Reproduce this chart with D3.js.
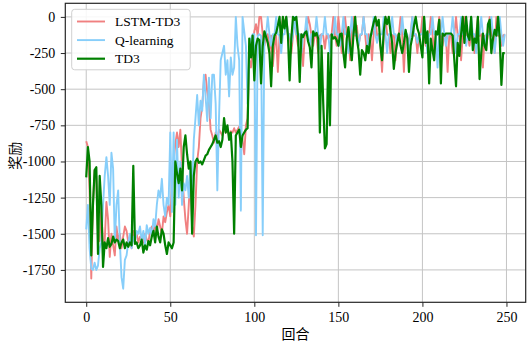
<!DOCTYPE html>
<html>
<head>
<meta charset="utf-8">
<script src="https://cdn.jsdelivr.net/npm/d3@7"></script>
<style>
  body { margin: 0; background: #fff; }
  svg text { font-family: "Liberation Serif", "DejaVu Serif", serif; }
</style>
</head>
<body>
<div id="chart"></div>
<script>
// episode rewards, one value per episode (0..249)
var lstmTd3 = [
  -860, -900, -1200, -1810, -1300, -1060, -1100, -1500, -1550, -1300,
  -1600, -1550, -1280, -1400, -1660, -1500, -1580, -1650, -1450, -1550,
  -1500, -1600, -1520, -1450, -1480, -1560, -1520, -1600, -1480, -1530,
  -1500, -1560, -1520, -1540, -1560, -1500, -1540, -1560, -1480, -1450,
  -1500, -1420, -1480, -1400, -1450, -1500, -1380, -1420, -1350, -1300,
  -1380, -1200, -1000, -880, -800, -900, -780, -1050, -1250, -1400,
  -1500, -1300, -1100, -1450, -1520, -1300, -1000, -900, -700, -620,
  -440, -400, -520, -600, -780, -820, -870, -800, -850, -780,
  -800, -820, -760, -800, -780, -820, -790, -800, -770, -800,
  -780, -760, -800, -850, -950, -750, -700, -300, -350, -200,
  -100, -50, -130, 0, 0, -120, -200, -130, -120, -250,
  -130, -340, -200, -130, -380, -130, -120, 0, -60, 0,
  -130, -120, -250, -130, 0, -120, -200, -130, -120, -340,
  -130, -120, 0, -50, -130, -200, -120, -130, -250, -130,
  -120, -130, -220, -120, -150, -130, -120, 0, -130, -200,
  0, -120, -250, -130, 0, -120, -130, -300, -120, 0,
  -130, -60, -200, -130, -120, 0, -130, -250, -120, -130,
  -300, -120, 0, -130, -120, -200, -380, -130, 0, -120,
  -130, -250, -130, -120, -300, -130, -120, 0, -130, -380,
  -120, -130, -200, -120, 0, -130, -120, -250, -130, -120,
  0, -130, -200, -120, -130, 0, -120, -250, -130, -120,
  0, -130, -200, -120, -130, -380, -120, -130, -250, -120,
  0, -130, -120, -300, -130, 0, -120, -130, -200, -120,
  -130, -250, -120, 0, -130, -120, -350, -130, -200, -120,
  0, -130, -120, -250, 0, -130, -120, -200, -130, -120
];
var qLearning = [
  -1470, -1300, -1600, -1740, -1750, -1700, -1750, -1720, -1600, -1560,
  -1300, -1100, -970, -1100, -1300, -940, -1050, -1560, -1300, -1200,
  -1560, -1800, -1880, -1680, -1650, -1560, -1500, -1600, -1520, -1560,
  -1480, -1500, -1450, -1550, -1480, -1580, -1440, -1500, -1460, -1520,
  -1400, -1450, -1300, -1200, -1250, -1120, -1300, -1380, -1250, -1300,
  -800, -1350, -800, -1300, -850, -1250, -1000, -1300, -1150, -1200,
  -1100, -1250, -1000, -1200, -850, -700, -540, -750, -580, -650,
  -400, -550, -720, -420, -700, -400, -400, -600, -1200, -700,
  -300, -250, -200, -400, -300, -550, -280, -400, -350, 0,
  -200, -300, -1340, 0, -100, -200, -600, -250, -150, -120,
  -120, -1510, -130, -120, -130, -1510, -120, -120, 0, -120,
  -200, -120, -120, 0, -120, -130, -250, -120, -120, 0,
  -120, -120, -180, -120, 0, -120, -120, -120, -250, -120,
  -120, 0, -120, -200, -120, -120, -120, 0, -120, -220,
  -120, -120, 0, -120, -120, -250, -120, -120, 0, -120,
  -120, -200, -120, 0, -120, -120, -250, -120, 0, -120,
  -120, -120, -200, -120, -120, 0, -120, -120, -250, -120,
  -120, 0, -120, -180, -120, -120, -120, 0, -120, -250,
  -120, -120, 0, -120, -120, -200, -120, -120, 0, -120,
  -120, -120, -250, -120, 0, -120, -120, -180, -120, -120,
  -120, 0, -120, -250, -120, -120, 0, -120, -120, -350,
  -120, -120, 0, -120, -200, -120, -120, -120, 0, -120,
  -250, -120, -120, 0, -120, -120, -200, -120, -120, 0,
  -120, -120, -250, -120, -120, 0, -120, -200, -120, -120,
  -120, 0, -120, -250, -120, -120, 0, -120, -200, -120
];
var td3 = [
  -1110, -900, -1000, -1650, -1300, -1060, -1040, -1640, -1100, -1300,
  -1730, -1560, -1600, -1530, -1590, -1570, -1520, -1560, -1540, -1550,
  -1600, -1560, -1540, -1600, -1560, -1590, -1560, -1580, -1030, -1570,
  -1560, -1600, -1580, -1540, -1630, -1580, -1610, -1550, -1580, -1520,
  -1480, -1560, -1450, -1520, -1560, -1470, -1500, -1580, -1640, -1560,
  -1580, -1600, -1560, -1000, -1080, -1150, -1050, -1200, -900, -820,
  -950, -1050, -1000, -1500, -1100, -1000, -980, -1010, -1000, -1020,
  -990, -960, -950, -920, -900, -880, -850, -820, -870, -860,
  -900, -850, -700, -800, -750, -850, -800, -1000, -1500, -820,
  -800, -780, -900, -820, -800, -780, -770, -150, -280, -130,
  -440, -200, -150, -160, -460, -200, -100, -140, -180, -250,
  -480, -200, -130, -110, -60, 0, -180, 0, -80, 0,
  -130, -440, -150, 0, -20, 0, -130, -450, -120, -140,
  -110, -100, -170, -210, -350, -100, -130, -110, -150, -800,
  -200, -600, -910, -880, -250, -750, -120, -150, -140, -160,
  -200, -120, -115, -250, -350, -150, -70, -200, -300, -120,
  0, -150, -230, -400, -230, -250, -300, -200, -250, -150,
  -90, -40, 0, -60, -20, -200, -300, -100, 0, -50,
  0, -100, -180, -360, -250, -180, -115, -200, -250, -180,
  -90, -150, -380, -200, -140, -60, 0, -80, -115, -200,
  -280, 0, -180, -100, -460, -150, -230, -300, -100, -120,
  -20, -460, -115, -130, -115, -115, -115, -115, -130, -300,
  -480, -180, -270, -120, 0, -180, 0, -130, -160, 0,
  -230, -150, -180, 0, -430, -250, -115, -200, -230, -50,
  -20, -250, -150, -90, -130, 0, -150, -470, -250, -250
];
var seriesNames = ["LSTM-TD3", "Q-learning", "TD3"];
var seriesColors = ["#f08080", "#87cefa", "#008000"];
var xTicks = [0, 50, 100, 150, 200, 250];
var yTicks = [0, -250, -500, -750, -1000, -1250, -1500, -1750];

(function() {
var w = 529, h = 343;
var pLeft = 65.3, pRight = 525.7, pTop = 3.3, pBottom = 302.3;

var all = [lstmTd3, qLearning, td3];
var n = td3.length;
var ymin = d3.min(all, function(s) { return d3.min(s); });
var ymax = d3.max(all, function(s) { return d3.max(s); });
var xpad = (n - 1) * 0.05, ypad = (ymax - ymin) * 0.05;

var xScale = d3.scaleLinear().domain([-xpad, n - 1 + xpad]).range([pLeft, pRight]);
var yScale = d3.scaleLinear().domain([ymin - ypad, ymax + ypad]).range([pBottom, pTop]);

var svg = d3.select("#chart").append("svg").attr("width", w).attr("height", h);

// grid
svg.append("g").selectAll("line").data(xTicks).enter().append("line")
  .attr("x1", function(d) { return xScale(d); }).attr("x2", function(d) { return xScale(d); })
  .attr("y1", pTop).attr("y2", pBottom)
  .attr("stroke", "#c4c4c4").attr("stroke-width", 1);
svg.append("g").selectAll("line").data(yTicks).enter().append("line")
  .attr("y1", function(d) { return yScale(d); }).attr("y2", function(d) { return yScale(d); })
  .attr("x1", pLeft).attr("x2", pRight)
  .attr("stroke", "#c4c4c4").attr("stroke-width", 1);

// lines
var line = d3.line().x(function(d, i) { return xScale(i); }).y(function(d) { return yScale(d); });
all.forEach(function(s, k) {
  svg.append("path").datum(s)
    .attr("d", line)
    .attr("fill", "none")
    .attr("stroke", seriesColors[k])
    .attr("stroke-width", k == 2 ? 2.2 : 1.9)
    .attr("stroke-linejoin", "round");
});

// frame
svg.append("rect").attr("x", pLeft).attr("y", pTop)
  .attr("width", pRight - pLeft).attr("height", pBottom - pTop)
  .attr("fill", "none").attr("stroke", "#262626").attr("stroke-width", 1.2);

// axes
var plain = function(d) { return String(d); };
var xAxis = d3.axisBottom(xScale).tickValues(xTicks).tickFormat(plain).tickSize(4.5).tickPadding(5);
var gx = svg.append("g").attr("transform", "translate(0," + pBottom + ")").call(xAxis);
var yAxis = d3.axisLeft(yScale).tickValues(yTicks).tickFormat(plain).tickSize(4.5).tickPadding(5.5);
var gy = svg.append("g").attr("transform", "translate(" + pLeft + ",0)").call(yAxis);
[gx, gy].forEach(function(g) {
  g.select(".domain").remove();
  g.selectAll("line").attr("stroke", "#262626");
  g.selectAll("text").attr("fill", "#000").style("font-size", "14px")
    .style("font-family", "'Liberation Serif', serif");
});

svg.append("text").attr("x", (pLeft + pRight) / 2).attr("y", 338.5)
  .attr("text-anchor", "middle").style("font-size", "14px")
  .style("font-family", "'Noto Sans CJK SC', sans-serif").text("回合");
svg.append("text").attr("transform", "translate(14," + ((pTop + pBottom) / 2 + 3) + ") rotate(-90)")
  .attr("text-anchor", "middle").attr("dominant-baseline", "central").style("font-size", "14px")
  .style("font-family", "'Noto Sans CJK SC', sans-serif").text("奖励");

// legend
var lg = svg.append("g");
lg.append("rect").attr("x", 71.7).attr("y", 9.3).attr("width", 118.5).attr("height", 60.5)
  .attr("rx", 3).attr("fill", "#fff").attr("fill-opacity", 0.85)
  .attr("stroke", "#d0d0d0").attr("stroke-width", 1);
seriesNames.forEach(function(name, k) {
  var yy = 21.5 + k * 18.6;
  lg.append("line").attr("x1", 77).attr("x2", 105).attr("y1", yy).attr("y2", yy)
    .attr("stroke", seriesColors[k]).attr("stroke-width", k == 2 ? 2.2 : 1.9);
  lg.append("text").attr("x", 115).attr("y", yy).attr("dominant-baseline", "central")
    .style("font-size", "13.5px").text(name);
});
})();
</script>
</body>
</html>
